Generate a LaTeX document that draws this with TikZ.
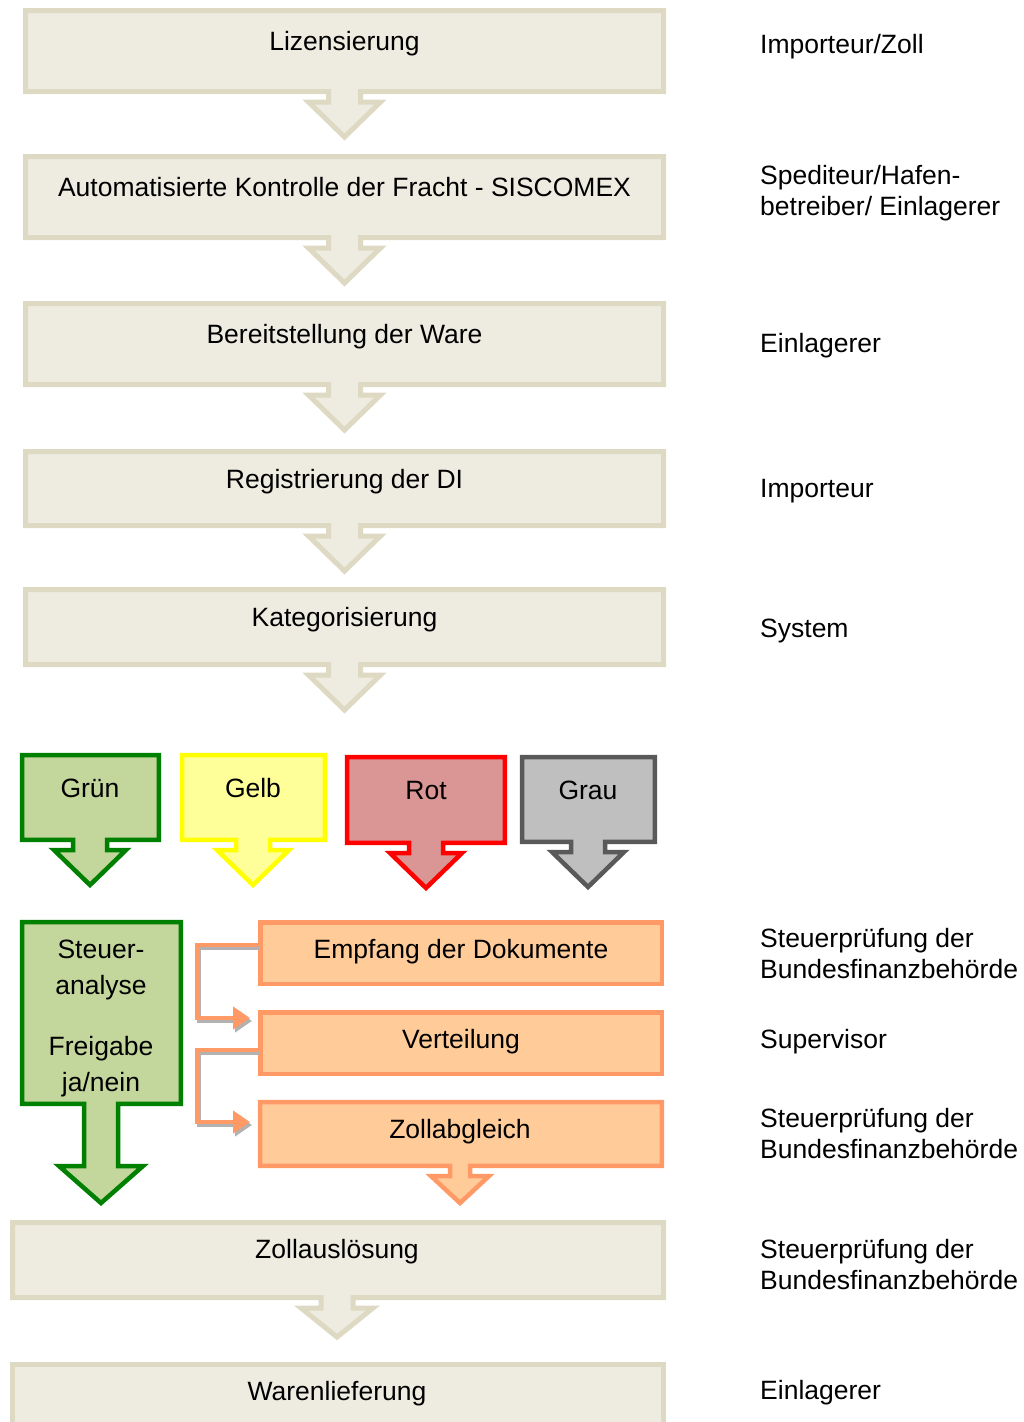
\documentclass[tikz,border=0pt]{standalone}
\usepackage{fontspec}
\setmainfont{Liberation Sans}
\usetikzlibrary{arrows.meta,calc}

\definecolor{beigefill}{HTML}{EEECE1}
\definecolor{beigeline}{HTML}{DDD9C3}
\definecolor{gruenfill}{HTML}{C3D69B}
\definecolor{gruenline}{HTML}{008000}
\definecolor{gelbfill}{HTML}{FFFF99}
\definecolor{gelbline}{HTML}{FFFF00}
\definecolor{rotfill}{HTML}{D99694}
\definecolor{rotline}{HTML}{FF0000}
\definecolor{graufill}{HTML}{BFBFBF}
\definecolor{grauline}{HTML}{595959}
\definecolor{orangefill}{HTML}{FFCC99}
\definecolor{orangeline}{HTML}{FF9966}

\tikzset{
  sw/.store in=\sw, hw/.store in=\hw, hy/.store in=\hy, ty/.store in=\ty,
  lbl/.style={inner sep=0pt, font=\fontsize{26.5}{31}\selectfont},
  beige/.style={draw=beigeline, fill=beigefill, line width=5pt},
  orangebox/.style={draw=orangeline, fill=orangefill, line width=4.5pt},
  conn/.style={draw=orangeline, line width=4.5pt, -{Triangle[length=17pt,width=22pt]}},
  connshadow/.style={draw=black!30, line width=4.5pt, -{Triangle[length=17pt,width=22pt]}}
}

% box with a block arrow below: opts, x1, y1, x2, y2, arrow centre
\newcommand{\callout}[6]{%
  \path[#1] (#2,#3) -- (#4,#3) -- (#4,#5) -- (#6+\sw,#5) -- (#6+\sw,\hy)
    -- (#6+\hw,\hy) -- (#6,\ty) -- (#6-\hw,\hy) -- (#6-\sw,\hy)
    -- (#6-\sw,#5) -- (#2,#5) -- cycle;}

\begin{document}
\begin{tikzpicture}[x=1pt,y=-1pt]
    \useasboundingbox[fill=white] (0,0) rectangle (1023,1422);

    % main steps
    \foreach \n/\t/\b/\d/\txt in {liz/8/94/42/Lizensierung,
        kon/154/240/42/Automatisierte Kontrolle der Fracht - SISCOMEX,
        ber/301/387/42/Bereitstellung der Ware,
        reg/449/528/39/Registrierung der DI,
        kat/587/667/39/Kategorisierung} {
      \callout{beige, sw=16, hw=36, hy={\b+8}, ty={\b+43}}{25.5}{\t+2.5}{663.5}{\b-2.5}{344.5}
      \node[lbl, anchor=base] (\n) at (344.5,\t+\d) {\txt};
    }

    % channels
    \foreach \n/\xa/\xb/\t/\b/\cx/\fc/\lc/\txt in {gruen/20/161/753/842/90/gruenfill/gruenline/Grün,
        gelb/180/327/753/842/253/gelbfill/gelbline/Gelb,
        rot/345/507/755/845/426/rotfill/rotline/Rot,
        grau/520/657/755/844/588/graufill/grauline/Grau} {
      \callout{draw=\lc, fill=\fc, line width=4.5pt, sw=17, hw=36, hy={\b+8}, ty={\b+43}}{\xa+2.2}{\t+2.2}{\xb-2.2}{\b-2.2}{\cx}
      \node[lbl, anchor=base] (\n) at (\cx,\t+44) {\txt};
    }

    % green channel
    \callout{draw=gruenline, fill=gruenfill, line width=4.5pt, sw=17, hw=42, hy=1166, ty=1203}{22.2}{922.2}{180.8}{1103.8}{101}
    \node[lbl, anchor=base, align=center, font=\fontsize{26.5}{35.5}\selectfont] (steuer) at (101,1091)
      {Steuer-\\analyse\\[26pt]Freigabe\\ja/nein};

    % other channels
    \node[orangebox, minimum width=401.5pt, minimum height=61.5pt, inner sep=0pt] (empf) at (461,953) {};
    \node[lbl, anchor=base] (empft) at (461,958) {Empfang der Dokumente};
    \node[orangebox, minimum width=401.5pt, minimum height=61.5pt, inner sep=0pt] (vert) at (461,1043) {};
    \node[lbl, anchor=base] (vertt) at (461,1048) {Verteilung};
    \callout{orangebox, sw=10, hw=29, hy=1176, ty=1203}{260.2}{1102.2}{661.8}{1165.8}{460}
    \node[lbl, anchor=base] (zoll) at (460,1138) {Zollabgleich};

    \coordinate (e1) at ($(empf.west)+(0,-8)$);
    \coordinate (v1) at ($(vert.west)+(-8,-25)$);
    \coordinate (v2) at ($(vert.west)+(0,7)$);
    \coordinate (z1) at (250,1122);
    \begin{scope}[transform canvas={shift={(2pt,-3pt)}}]
      \draw[connshadow] (e1) -- ++(-61,0) |- (v1);
      \draw[connshadow] (v2) -- ++(-61,0) |- (z1);
    \end{scope}
    \draw[conn] (e1) -- ++(-61,0) |- (v1);
    \draw[conn] (v2) -- ++(-61,0) |- (z1);

    % end steps
    \callout{beige, sw=16, hw=36, hy=1308, ty=1337}{12.5}{1222.5}{663.5}{1297.5}{337}
    \node[lbl, anchor=base] (ausl) at (337,1258) {Zollauslösung};
    \draw[beige] (12.5,1364.5) rectangle (663.5,1450);
    \node[lbl, anchor=base] (lief) at (337,1400) {Warenlieferung};

    % who is in charge
    \foreach \y/\txt in {53/{Importeur/Zoll}, 215/{Spediteur/Hafen-\\betreiber/ Einlagerer},
        352/Einlagerer, 497/Importeur, 637/System,
        978/{Steuerprüfung der\\Bundesfinanzbehörde}, 1048/Supervisor,
        1158/{Steuerprüfung der\\Bundesfinanzbehörde},
        1289/{Steuerprüfung der\\Bundesfinanzbehörde}, 1399/Einlagerer} {
      \node[lbl, anchor=base west, align=left] (r\y) at (760,\y) {\txt};
    }
\end{tikzpicture}
\end{document}
